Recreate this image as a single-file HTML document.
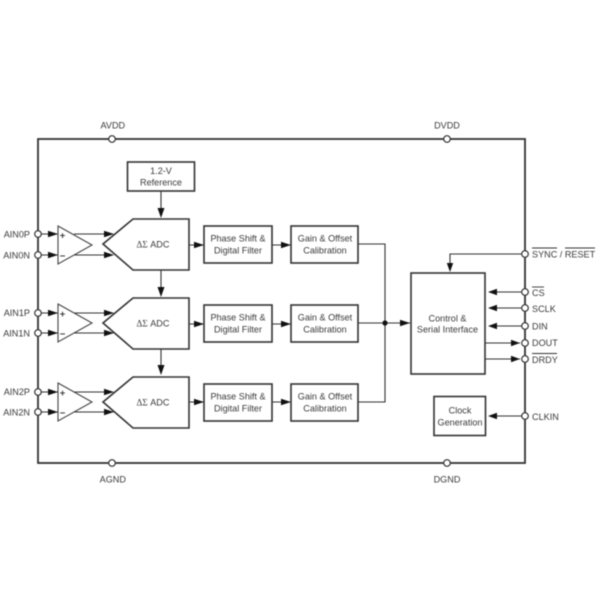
<!DOCTYPE html>
<html><head><meta charset="utf-8">
<style>
html,body{margin:0;padding:0;background:#fff;width:600px;height:600px;overflow:hidden}
svg{display:block;filter:blur(0.45px)}
text{font-family:"Liberation Sans",sans-serif;font-size:9.1px;fill:#3a3a3a}
.m{text-anchor:middle}
.e{text-anchor:end}
.b{fill:#fff;stroke:#333;stroke-width:1.6}
.l{fill:none;stroke:#333;stroke-width:1.1}
.p{fill:#fff;stroke:#333;stroke-width:1.2}
.a{fill:#111}
.t{fill:#fff;stroke:#444;stroke-width:1.1}
.s{font-size:9.5px;font-weight:bold}
.o{stroke:#333;stroke-width:.9;fill:none}
</style></head><body>
<svg width="600" height="600" viewBox="0 0 600 600" xmlns="http://www.w3.org/2000/svg">
<rect x="38" y="139" width="487" height="324" fill="#fff" stroke="#333" stroke-width="1.8"/>

<!-- connectors -->
<path class="l" d="M161 191V210M161 270V290M161 349V368"/>
<path class="l" d="M38 234H58M38 255H58M38 313H58M38 333H58M38 392H58M38 412H58"/>
<path class="l" d="M74 234H113M74 255H113M74 313H113M74 333H113M74 392H113M74 412H113"/>
<path class="l" d="M189 245H204M189 324H204M189 402H204M272 245H291M272 324H291M272 402H291"/>
<path class="l" d="M358 244H385V402H358M358 323H410"/>
<path class="l" d="M525 254H450V266M525 292H490M525 308H490M525 326H490M485 343H520M485 359H520M525 416H490"/>

<!-- amplifiers -->
<polygon class="t" points="58,226 92,245 58,264"/>
<polygon class="t" points="58,304 92,323 58,342"/>
<polygon class="t" points="58,383 92,402 58,421"/>

<!-- ADCs -->
<polygon class="b" points="103,244 133,219 189,219 189,270 133,270"/>
<polygon class="b" points="103,323 133,298 189,298 189,349 133,349"/>
<polygon class="b" points="103,402 133,377 189,377 189,428 133,428"/>

<!-- boxes -->
<rect class="b" x="127.500" y="162" width="67" height="29"/>
<rect class="b" x="204" y="226" width="68" height="37"/>
<rect class="b" x="204" y="305" width="68" height="37"/>
<rect class="b" x="204" y="384" width="68" height="37"/>
<rect class="b" x="291" y="226" width="67" height="37"/>
<rect class="b" x="291" y="305" width="67" height="37"/>
<rect class="b" x="291" y="384" width="67" height="37"/>
<rect class="b" x="411" y="273" width="74" height="101"/>
<rect class="b" x="434" y="396.500" width="51.500" height="39"/>

<!-- arrowheads -->
<g class="a">
<polygon points="161,218 157.500,208 164.500,208"/>
<polygon points="161,297 157.500,287 164.500,287"/>
<polygon points="161,375 157.500,365 164.500,365"/>
<polygon points="58,234 48,230.800 48,237.200"/><polygon points="58,255 48,251.800 48,258.200"/>
<polygon points="58,313 48,309.800 48,316.200"/><polygon points="58,333 48,329.800 48,336.200"/>
<polygon points="58,392 48,388.800 48,395.200"/><polygon points="58,412 48,408.800 48,415.200"/>
<polygon points="114,234 104,230.800 104,237.200"/><polygon points="114,255 104,251.800 104,258.200"/>
<polygon points="114,313 104,309.800 104,316.200"/><polygon points="114,333 104,329.800 104,336.200"/>
<polygon points="114,392 104,388.800 104,395.200"/><polygon points="114,412 104,408.800 104,415.200"/>
<polygon points="204,245 194,241.800 194,248.200"/><polygon points="204,324 194,320.800 194,327.200"/><polygon points="204,402 194,398.800 194,405.200"/>
<polygon points="291,245 281,241.800 281,248.200"/><polygon points="291,324 281,320.800 281,327.200"/><polygon points="291,402 281,398.800 281,405.200"/>
<polygon points="410,323 400,319.800 400,326.200"/>
<polygon points="450,272 446.800,263 453.200,263"/>
<polygon points="488,292 497,288.800 497,295.200"/><polygon points="488,308 497,304.800 497,311.200"/><polygon points="488,326 497,322.800 497,329.200"/>
<polygon points="520,343 511,339.800 511,346.200"/><polygon points="520,359 511,355.800 511,362.200"/>
<polygon points="488,416 497,412.800 497,419.200"/>
<circle cx="385" cy="323" r="2.6"/>
</g>

<!-- pins -->
<g class="p">
<circle cx="112" cy="139" r="3.3"/><circle cx="447" cy="139" r="3.3"/>
<circle cx="112" cy="463" r="3.3"/><circle cx="447" cy="463" r="3.3"/>
<circle cx="38" cy="234" r="3.3"/><circle cx="38" cy="255" r="3.3"/>
<circle cx="38" cy="313" r="3.3"/><circle cx="38" cy="333" r="3.3"/>
<circle cx="38" cy="392" r="3.3"/><circle cx="38" cy="412" r="3.3"/>
<circle cx="525" cy="254" r="3.3"/><circle cx="525" cy="292" r="3.3"/>
<circle cx="525" cy="308" r="3.3"/><circle cx="525" cy="326" r="3.3"/>
<circle cx="525" cy="343" r="3.3"/><circle cx="525" cy="359" r="3.3"/>
<circle cx="525" cy="416" r="3.3"/>
</g>

<!-- labels -->
<text class="m" x="112.800" y="128.500">AVDD</text>
<text class="m" x="447" y="128.500">DVDD</text>
<text class="m" x="112.800" y="482.500">AGND</text>
<text class="m" x="447" y="482.500">DGND</text>
<text class="e" x="30" y="237.300">AIN0P</text><text class="e" x="30" y="258.300">AIN0N</text>
<text class="e" x="30" y="315.800">AIN1P</text><text class="e" x="30" y="336.600">AIN1N</text>
<text class="e" x="30" y="394.800">AIN2P</text><text class="e" x="30" y="415.600">AIN2N</text>
<text class="m s" x="62.500" y="238.500">+</text><text class="m s" x="62.500" y="259">−</text>
<text class="m s" x="62.500" y="317">+</text><text class="m s" x="62.500" y="337">−</text>
<text class="m s" x="62.500" y="396">+</text><text class="m s" x="62.500" y="416">−</text>
<text class="m" x="161" y="174">1.2-V</text><text class="m" x="161" y="185.500">Reference</text>
<text class="m" x="153" y="247.500"><tspan style="font-family:'Liberation Serif',serif">ΔΣ</tspan> ADC</text>
<text class="m" x="153" y="326.500"><tspan style="font-family:'Liberation Serif',serif">ΔΣ</tspan> ADC</text>
<text class="m" x="153" y="405.500"><tspan style="font-family:'Liberation Serif',serif">ΔΣ</tspan> ADC</text>
<text class="m" x="238" y="241.500">Phase Shift &amp;</text><text class="m" x="238" y="253.500">Digital Filter</text>
<text class="m" x="238" y="320.500">Phase Shift &amp;</text><text class="m" x="238" y="332.500">Digital Filter</text>
<text class="m" x="238" y="399.500">Phase Shift &amp;</text><text class="m" x="238" y="411.500">Digital Filter</text>
<text class="m" x="325" y="241.500">Gain &amp; Offset</text><text class="m" x="325" y="253.500">Calibration</text>
<text class="m" x="325" y="320.500">Gain &amp; Offset</text><text class="m" x="325" y="332.500">Calibration</text>
<text class="m" x="325" y="399.500">Gain &amp; Offset</text><text class="m" x="325" y="411.500">Calibration</text>
<text class="m" x="447.500" y="321.500">Control &amp;</text><text class="m" x="447.500" y="332.500">Serial Interface</text>
<text class="m" x="460" y="413.500">Clock</text><text class="m" x="460" y="425.500">Generation</text>
<text x="532" y="257.500">SYNC / RESET</text>
<path class="o" d="M532 248H557M565 248H595"/>
<text x="532" y="296">CS</text><path class="o" d="M532 287H544"/>
<text x="532" y="312">SCLK</text>
<text x="532" y="329.500">DIN</text>
<text x="532" y="346">DOUT</text>
<text x="532" y="363">DRDY</text><path class="o" d="M532 353.500H557"/>
<text x="532" y="420">CLKIN</text>
</svg>
</body></html>
